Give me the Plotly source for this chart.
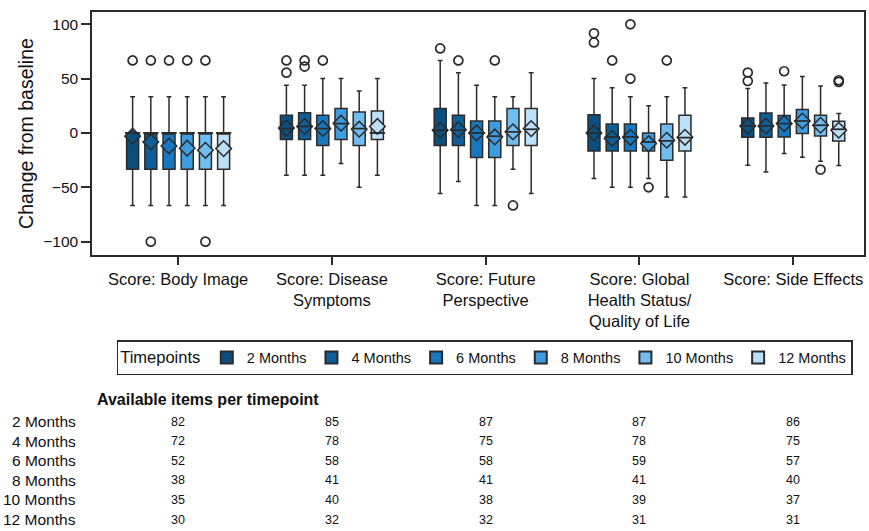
import plotly.graph_objects as go

# Questionnaire domains (x categories) and their axis labels
domains = ["BI", "DS", "FP", "GH", "SE"]
domain_labels = [
    "Score: Body Image",
    "Score: Disease<br>Symptoms",
    "Score: Future<br>Perspective",
    "Score: Global<br>Health Status/<br>Quality of Life",
    "Score: Side Effects",
]

timepoints = ["2 Months", "4 Months", "6 Months", "8 Months", "10 Months", "12 Months"]
colors = ["#0b4f80", "#0e5f98", "#1878bf", "#3e9de0", "#72bdf0", "#bde0f8"]

# Box statistics: rows = timepoints, columns = domains (BI, DS, FP, GH, SE)
lower_fence = [
    [-66.7, -38.9, -55.8, -42.0, -29.7],
    [-66.7, -38.9, -44.7, -50.0, -35.9],
    [-66.7, -38.9, -66.7, -50.0, -19.0],
    [-66.7, -28.2, -66.7, -42.0, -22.4],
    [-66.7, -50.0, -33.3, -58.9, -26.0],
    [-66.7, -38.9, -55.8, -58.9, -30.0],
]
q1 = [
    [-33.3, -6.0, -11.6, -16.7, -4.0],
    [-33.3, -6.0, -11.6, -16.7, -4.0],
    [-33.3, -11.6, -22.6, -16.7, -3.7],
    [-33.3, -6.0, -22.6, -16.7, -0.6],
    [-33.3, -11.6, -11.6, -25.0, -2.8],
    [-33.3, -6.0, -11.6, -16.7, -7.3],
]
median = [
    [0.0, 4.0, 2.5, 0.0, 6.4],
    [0.0, 6.0, 2.5, -3.7, 6.4],
    [0.0, 4.0, 0.0, -3.7, 8.6],
    [0.0, 8.6, -3.0, -8.3, 11.0],
    [0.0, 4.0, 1.0, -7.3, 7.1],
    [0.0, 0.0, 3.4, -4.3, 3.4],
]
q3 = [
    [0.0, 16.3, 22.4, 16.7, 13.8],
    [0.0, 18.7, 16.3, 8.3, 18.4],
    [0.0, 16.3, 11.0, 8.3, 16.0],
    [0.0, 22.4, 11.0, 0.0, 21.5],
    [0.0, 19.3, 22.4, 8.3, 16.3],
    [0.0, 20.2, 22.4, 16.3, 10.8],
]
upper_fence = [
    [33.3, 44.0, 66.7, 50.0, 40.8],
    [33.3, 44.0, 55.5, 41.7, 46.0],
    [33.3, 50.0, 44.0, 33.3, 44.2],
    [33.3, 50.0, 33.3, 25.0, 51.9],
    [33.3, 38.7, 33.3, 33.3, 43.2],
    [33.3, 50.0, 55.5, 41.7, 17.8],
]
mean = [
    [-3.0, 4.5, 2.5, 0.0, 6.4],
    [-8.3, 6.0, 3.0, -5.0, 6.4],
    [-12.0, 4.0, 0.0, -4.0, 8.6],
    [-14.0, 9.0, -3.7, -9.8, 11.0],
    [-16.0, 3.5, 1.0, -6.7, 7.1],
    [-14.4, 6.0, 4.0, -4.0, 2.5],
]

# Outlying observations per timepoint: (domain, value)
outliers = [
    [("BI", 66.7), ("DS", 66.7), ("DS", 55.5), ("FP", 77.8), ("GH", 91.7), ("GH", 83.3), ("SE", 55.6), ("SE", 47.8)],
    [("BI", 66.7), ("BI", -100.0), ("DS", 66.7), ("DS", 61.1), ("FP", 66.7), ("GH", 66.7)],
    [("BI", 66.7), ("DS", 66.7), ("GH", 100.0), ("GH", 50.0), ("SE", 56.8)],
    [("BI", 66.7), ("FP", 66.7), ("GH", -50.0)],
    [("BI", 66.7), ("BI", -100.0), ("FP", -66.7), ("GH", 66.7), ("SE", -33.7)],
    [("SE", 48.5), ("SE", 47.0)],
]

# Number of available items per timepoint and domain
available_items = [
    [82, 85, 87, 87, 86],
    [72, 78, 75, 78, 75],
    [52, 58, 58, 59, 57],
    [38, 41, 41, 41, 40],
    [35, 40, 38, 39, 37],
    [30, 32, 32, 31, 31],
]

FONT = "Arial, Liberation Sans, sans-serif"
EDGE = "#2b2b2b"

fig = go.Figure()

for k, tp in enumerate(timepoints):
    fig.add_trace(go.Box(
        name=tp,
        x=domains,
        q1=q1[k], median=median[k], q3=q3[k],
        lowerfence=lower_fence[k], upperfence=upper_fence[k],
        offsetgroup=tp, alignmentgroup="tp",
        fillcolor=colors[k],
        line=dict(color=EDGE, width=1.5),
        whiskerwidth=0.4,
        boxpoints=False,
        hoverinfo="skip",
        legendgroup=tp,
    ))

for k, tp in enumerate(timepoints):
    # mean markers
    fig.add_trace(go.Scatter(
        x=domains, y=mean[k], mode="markers",
        offsetgroup=tp, alignmentgroup="tp",
        marker=dict(symbol="diamond", size=12, color=colors[k],
                    line=dict(color=EDGE, width=1.5)),
        showlegend=False, hoverinfo="skip", legendgroup=tp,
    ))
    # median line extending slightly past the box edges
    fig.add_trace(go.Scatter(
        x=domains, y=median[k], mode="markers",
        offsetgroup=tp, alignmentgroup="tp",
        marker=dict(symbol="line-ew", size=11,
                    line=dict(color=EDGE, width=1.8)),
        showlegend=False, hoverinfo="skip", legendgroup=tp,
    ))
    # outliers
    ox = [d for d, _ in outliers[k]]
    oy = [v for _, v in outliers[k]]
    fig.add_trace(go.Scatter(
        x=ox, y=oy, mode="markers",
        offsetgroup=tp, alignmentgroup="tp",
        marker=dict(symbol="circle-open", size=9,
                    line=dict(color=EDGE, width=1.7), color=EDGE),
        showlegend=False, hoverinfo="skip", legendgroup=tp,
    ))

# table of available items below the chart
annotations = [dict(
    text="<b>Available items per timepoint</b>",
    xref="paper", yref="paper", x=0.004, y=-0.593,
    xanchor="left", yanchor="middle", showarrow=False,
    font=dict(family=FONT, size=16, color="#111"),
)]
row_y0, row_step = -0.687, 0.0803
for k, tp in enumerate(timepoints):
    y = row_y0 - k * row_step
    annotations.append(dict(
        text=tp, xref="paper", yref="paper", x=-0.018, y=y,
        xanchor="right", yanchor="middle", showarrow=False,
        font=dict(family=FONT, size=15.5, color="#111"),
    ))
    for j, d in enumerate(domains):
        annotations.append(dict(
            text=str(available_items[k][j]), xref="x", yref="paper", x=d, y=y,
            xanchor="center", yanchor="middle", showarrow=False,
            font=dict(family=FONT, size=12.5, color="#111"),
        ))

fig.update_layout(
    width=869, height=531,
    margin=dict(l=92, r=3, t=12, b=276),
    paper_bgcolor="white", plot_bgcolor="white",
    font=dict(family=FONT, size=15, color="#111"),
    boxmode="group", boxgap=0.29, boxgroupgap=0.34,
    scattermode="group", scattergap=0.29,
    showlegend=True,
    legend=dict(
        orientation="h", x=0.032, y=-0.35, xanchor="left", yanchor="top",
        title=dict(text="Timepoints", font=dict(family=FONT, size=16.5)),
        font=dict(family=FONT, size=14.5),
        bordercolor=EDGE, borderwidth=1.5, bgcolor="white",
        itemsizing="constant",
    ),
    annotations=annotations,
)

fig.update_xaxes(
    type="category", categoryorder="array", categoryarray=domains,
    range=[-0.56, 4.46],
    tickmode="array", tickvals=domains, ticktext=domain_labels,
    ticks="outside", ticklen=8, tickwidth=1.5, tickcolor=EDGE,
    showline=True, linecolor=EDGE, linewidth=1.5, mirror=True,
    showgrid=False, zeroline=False,
    tickfont=dict(family=FONT, size=16.5, color="#111"),
)
fig.update_yaxes(
    range=[-112.3, 111.3],
    tickvals=[-100, -50, 0, 50, 100],
    ticks="outside", ticklen=9, tickwidth=1.5, tickcolor=EDGE,
    showline=True, linecolor=EDGE, linewidth=1.5, mirror=True,
    showgrid=False, zeroline=False,
    tickfont=dict(family=FONT, size=15.5, color="#111"),
    title=dict(text="Change from baseline", font=dict(family=FONT, size=19.5, color="#111"),
               standoff=4),
)

fig.write_html("out.html")
